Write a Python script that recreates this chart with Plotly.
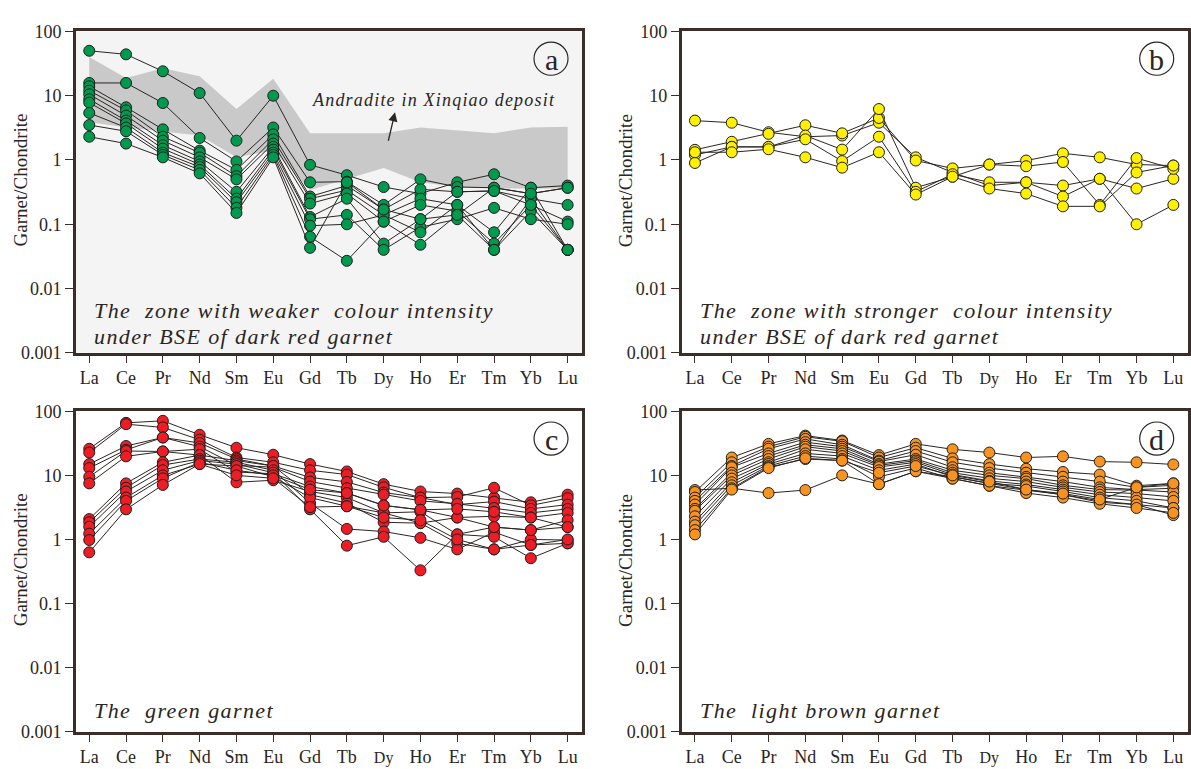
import plotly.graph_objects as go

# Chondrite-normalised REE patterns of garnet
ree = ["La", "Ce", "Pr", "Nd", "Sm", "Eu", "Gd", "Tb", "Dy", "Ho", "Er", "Tm", "Yb", "Lu"]
y_ticks = [0.001, 0.01, 0.1, 1, 10, 100]
y_tick_text = ["0.001", "0.01", "0.1", "1", "10", "100"]

# Field of andradite from the Xinqiao deposit (upper / lower envelope)
andradite_upper = [40, 18.8, 26.7, 20, 6.2, 18.4, 2.6, 2.6, 2.6, 3.2, 2.9, 2.6, 3.2, 3.3]
andradite_lower = [3.9, 3.2, 2.8, 2.4, 1.1, 1.4, 0.34, 0.5, 0.75, 0.45, 0.38, 0.36, 0.36, 0.36]

# (a) weaker colour-intensity zone of dark red garnet
weak_zone = [
    [50, 44, 24, 11, 2.0, 10, 0.84, 0.58, 0.38, 0.3, 0.45, 0.6, 0.37, 0.4],
    [15.8, 15.8, 7.7, 2.2, 0.95, 3.2, 0.45, 0.46, 0.2, 0.5, 0.38, 0.37, 0.3, 0.37],
    [14, 6.6, 3.0, 1.4, 0.7, 2.5, 0.27, 0.4, 0.17, 0.35, 0.32, 0.33, 0.25, 0.2],
    [12, 5.9, 2.3, 1.3, 0.56, 2.1, 0.25, 0.34, 0.14, 0.25, 0.2, 0.075, 0.37, 0.04],
    [10.5, 4.9, 2.0, 1.1, 0.5, 1.8, 0.21, 0.3, 0.11, 0.2, 0.16, 0.05, 0.2, 0.11],
    [8.8, 4.1, 1.7, 0.95, 0.32, 1.6, 0.13, 0.25, 0.05, 0.12, 0.14, 0.04, 0.16, 0.04],
    [7.8, 3.7, 1.5, 0.85, 0.25, 1.45, 0.12, 0.14, 0.04, 0.09, 0.12, 0.18, 0.12, 0.1],
    [5.4, 3.2, 1.3, 0.78, 0.22, 1.3, 0.095, 0.1, 0.14, 0.075, 0.2, 0.04, 0.25, 0.04],
    [3.5, 2.8, 1.2, 0.7, 0.18, 1.2, 0.064, 0.027, 0.11, 0.048, 0.14, 0.37, 0.3, 0.37],
    [2.3, 1.8, 1.1, 0.62, 0.15, 1.1, 0.043, 0.45, 0.17, 0.12, 0.32, 0.33, 0.2, 0.04],
]

# (b) stronger colour-intensity zone of dark red garnet
strong_zone = [
    [4.1, 3.8, 2.7, 2.3, 2.4, 3.8, 1.1, 0.64, 0.4, 0.45, 0.4, 0.51, 0.36, 0.51],
    [1.44, 1.92, 2.55, 3.47, 2.6, 4.5, 0.98, 0.74, 0.85, 0.98, 1.27, 1.1, 0.85, 0.82],
    [1.2, 1.6, 1.6, 2.4, 1.45, 6.2, 0.37, 0.55, 0.85, 0.8, 0.93, 0.2, 1.07, 0.73],
    [0.9, 1.6, 1.6, 2.1, 0.96, 2.3, 0.32, 0.6, 0.45, 0.45, 0.27, 0.51, 0.1, 0.2],
    [1.32, 1.32, 1.47, 1.1, 0.76, 1.32, 0.29, 0.55, 0.36, 0.3, 0.19, 0.19, 0.64, 0.82],
]

# (c) green garnet
green_garnet = [
    [26, 66, 71, 43, 27, 21, 15, 11.5, 7.3, 5.6, 5.2, 4.5, 3.8, 5.0],
    [22.7, 63, 56, 36, 19, 16, 12, 10.3, 6.5, 4.5, 4.6, 6.4, 3.4, 4.4],
    [15, 28.7, 39, 32, 18, 14, 9.3, 7.9, 5.4, 4.5, 3.5, 3.9, 3.0, 3.5],
    [13, 25, 39, 28, 14.3, 13.4, 8, 6.3, 5.0, 4.0, 3.6, 3.1, 2.6, 3.0],
    [9.5, 24, 23.6, 25.6, 11.3, 10.6, 6.7, 5.3, 3.4, 2.9, 2.2, 2.3, 2.2, 2.6],
    [7.5, 19.8, 23.6, 20.7, 7.8, 8.4, 5.6, 4.5, 2.6, 2.7, 1.2, 1.56, 1.4, 2.0],
    [2.08, 7.5, 16, 20.7, 17, 14, 5.0, 3.7, 1.85, 1.8, 0.87, 0.7, 1.0, 0.98],
    [1.85, 6.4, 14.5, 18, 16, 12, 3.7, 1.46, 1.33, 1.06, 0.7, 1.3, 0.82, 0.87],
    [1.58, 5.6, 12, 17, 15, 11, 2.95, 0.8, 1.1, 0.33, 1.2, 1.1, 0.51, 0.87],
    [1.23, 4.5, 10, 15, 14, 9.5, 4.5, 3.3, 2.6, 1.8, 2.2, 1.56, 1.4, 1.56],
    [0.98, 4.0, 9, 16, 12, 10, 6, 5.3, 3.4, 2.9, 3.0, 2.7, 2.2, 1.56],
    [0.63, 2.95, 7.1, 15, 10, 9, 3.2, 3.3, 2.2, 2.0, 1.0, 0.7, 0.82, 1.0],
]

# (d) light brown garnet
light_brown = [
    [5.9, 6.3, 5.3, 5.9, 10, 7.3, 11.6, 9.5, 7.5, 6, 5, 4, 3.5, 2.4],
    [5.5, 19, 31, 41.7, 35, 20.7, 31, 25.5, 22.7, 19, 19.8, 16.4, 16, 14.8],
    [4.5, 16, 28, 40, 34, 19, 27, 18.4, 15, 12.7, 11.3, 10.3, 6.9, 7.5],
    [4.0, 14, 26, 37, 30, 17, 24, 16, 13, 11, 9.5, 8, 6.5, 7],
    [3.5, 13.4, 22, 33, 28, 16.4, 21, 13.4, 11, 9.5, 8, 6.5, 6.0, 6.3],
    [3.0, 11, 20, 30, 26, 15, 18, 12, 10, 8.9, 7, 6, 5.9, 5.5],
    [2.8, 10, 18, 28, 24, 14.3, 17, 11, 9, 8, 6.5, 5.5, 5.2, 4.6],
    [2.3, 8.9, 16, 25.5, 22, 13.5, 16, 10.3, 8.2, 7.2, 6, 5, 4.5, 4.0],
    [1.9, 7.8, 15, 22, 20, 12, 15, 9.5, 7.5, 6.8, 5.6, 4.5, 4.0, 3.1],
    [1.67, 7.0, 14, 20, 18, 9.5, 13, 8.9, 6.9, 5.8, 5, 3.8, 3.5, 3.1],
    [1.4, 6.3, 13.4, 18, 17, 7.3, 11.6, 8.9, 6.9, 5.3, 4.5, 3.6, 3.1, 2.6],
    [1.2, 6.0, 13, 18.5, 17, 11, 14, 10, 8, 6, 5.2, 4.2, 6.5, 7.5],
]

W, H = 1191, 769
FRAME = "#3a2d2a"
INK = "#2a2522"
SERIF = "Liberation Serif, Times New Roman, serif"


def px(x):
    return x / W


def py(y):
    return 1 - y / H


# panel boxes in page pixels: (left, right, top, bottom)
boxes = {
    "a": (76, 582, 22, 352),
    "b": (681.7, 1187.7, 22, 352),
    "c": (76, 582, 412, 741),
    "d": (681.7, 1187.7, 412, 741),
}

panels = [
    ("a", weak_zone, "#009a4e", "",
     ["The\u00a0 zone with weaker\u00a0 colour intensity", "under BSE of dark red garnet"]),
    ("b", strong_zone, "#fff000", "2",
     ["The\u00a0 zone with stronger\u00a0 colour intensity", "under BSE of dark red garnet"]),
    ("c", green_garnet, "#ee1c25", "3", ["The\u00a0 green garnet"]),
    ("d", light_brown, "#f7931e", "4", ["The\u00a0 light brown garnet"]),
]

xpos = list(range(len(ree)))
tick_labels = [
    "<span style='font-size:16px'>Dy</span>" if e == "Dy" else e for e in ree
]

fig = go.Figure()

# Andradite field behind the panel (a) patterns
fig.add_trace(go.Scatter(
    x=xpos + xpos[::-1],
    y=andradite_upper + andradite_lower[::-1],
    fill="toself", fillcolor="#c9c9c9", line=dict(width=0),
    mode="lines", hoverinfo="skip", showlegend=False,
    xaxis="x", yaxis="y",
))

annotations = []
shapes = []
layout_axes = {}

for key, series, colour, sfx, caption in panels:
    left, right, top, bottom = boxes[key]
    xa, ya = "x" + sfx, "y" + sfx
    for vals in series:
        fig.add_trace(go.Scatter(
            x=xpos, y=vals, mode="lines+markers",
            line=dict(color=INK, width=1),
            marker=dict(size=11, color=colour, line=dict(color="#1e1e1e", width=1)),
            showlegend=False, xaxis=xa, yaxis=ya,
        ))

    layout_axes["xaxis" + sfx] = dict(
        domain=[px(left), px(right)], anchor=ya,
        range=[-0.36, 13.39], tickmode="array", tickvals=xpos, ticktext=tick_labels,
        ticks="outside", ticklen=7, tickwidth=1.3, tickcolor=FRAME,
        showline=True, linecolor=FRAME, linewidth=2.8, mirror=True,
        showgrid=False, zeroline=False,
        tickfont=dict(family=SERIF, size=18, color=INK),
    )
    layout_axes["yaxis" + sfx] = dict(
        domain=[py(bottom), py(top)], anchor=xa,
        type="log", range=[-3, 2], tickmode="array",
        tickvals=y_ticks, ticktext=y_tick_text,
        ticks="outside", ticklen=8, tickwidth=1.3, tickcolor=FRAME,
        showline=True, linecolor=FRAME, linewidth=2.8, mirror=True,
        showgrid=False, zeroline=False,
        tickfont=dict(family=SERIF, size=18, color=INK),
    )

    # y-axis title
    annotations.append(dict(
        xref="paper", yref="paper", x=px(left - 56), y=py(top + 153),
        text="Garnet/Chondrite", textangle=-90, showarrow=False,
        font=dict(family=SERIF, size=19, color=INK),
        xanchor="center", yanchor="middle",
    ))

    # panel letter in a circle
    cx, cy, r = right - 31, top + 28, 17
    shapes.append(dict(
        type="circle", xref="paper", yref="paper",
        x0=px(cx - r), x1=px(cx + r), y0=py(cy + r), y1=py(cy - r),
        line=dict(color=INK, width=1.2), fillcolor="rgba(0,0,0,0)",
    ))
    annotations.append(dict(
        xref="paper", yref="paper", x=px(cx), y=py(cy + 1),
        text=key, showarrow=False,
        font=dict(family=SERIF, size=30, color=INK),
        xanchor="center", yanchor="middle",
    ))

    # italic caption in the lower-left corner
    if len(caption) == 2:
        ys = [bottom - 43, bottom - 17]
    else:
        ys = [bottom - 22]
    for line_text, yy in zip(caption, ys):
        annotations.append(dict(
            xref="paper", yref="paper", x=px(left + 16), y=py(yy),
            text="<span style='letter-spacing:1.4px'>" + line_text + "</span>",
            showarrow=False,
            font=dict(family=SERIF, size=22, color=INK, style="italic"),
            xanchor="left", yanchor="middle",
        ))

# light grey background of panel (a)
shapes.insert(0, dict(
    type="rect", xref="x domain", yref="y domain", x0=0, x1=1, y0=0, y1=1,
    fillcolor="#f4f4f4", line=dict(width=0), layer="below",
))

# label and arrow for the andradite field
annotations.append(dict(
    xref="paper", yref="paper", x=px(433), y=py(92),
    text="<span style='letter-spacing:1.2px'>Andradite in Xinqiao deposit</span>",
    showarrow=False, font=dict(family=SERIF, size=18, color=INK, style="italic"),
    xanchor="center", yanchor="middle",
))
annotations.append(dict(
    xref="paper", yref="paper", x=px(395), y=py(105), ax=-7, ay=30,
    text="", showarrow=True, arrowhead=2, arrowsize=1.4, arrowwidth=1.3,
    arrowcolor=INK,
))

fig.update_layout(
    width=W, height=H, margin=dict(l=0, r=0, t=0, b=0),
    paper_bgcolor="white", plot_bgcolor="white",
    annotations=annotations, shapes=shapes,
    **layout_axes,
)

fig.write_html("out.html")
